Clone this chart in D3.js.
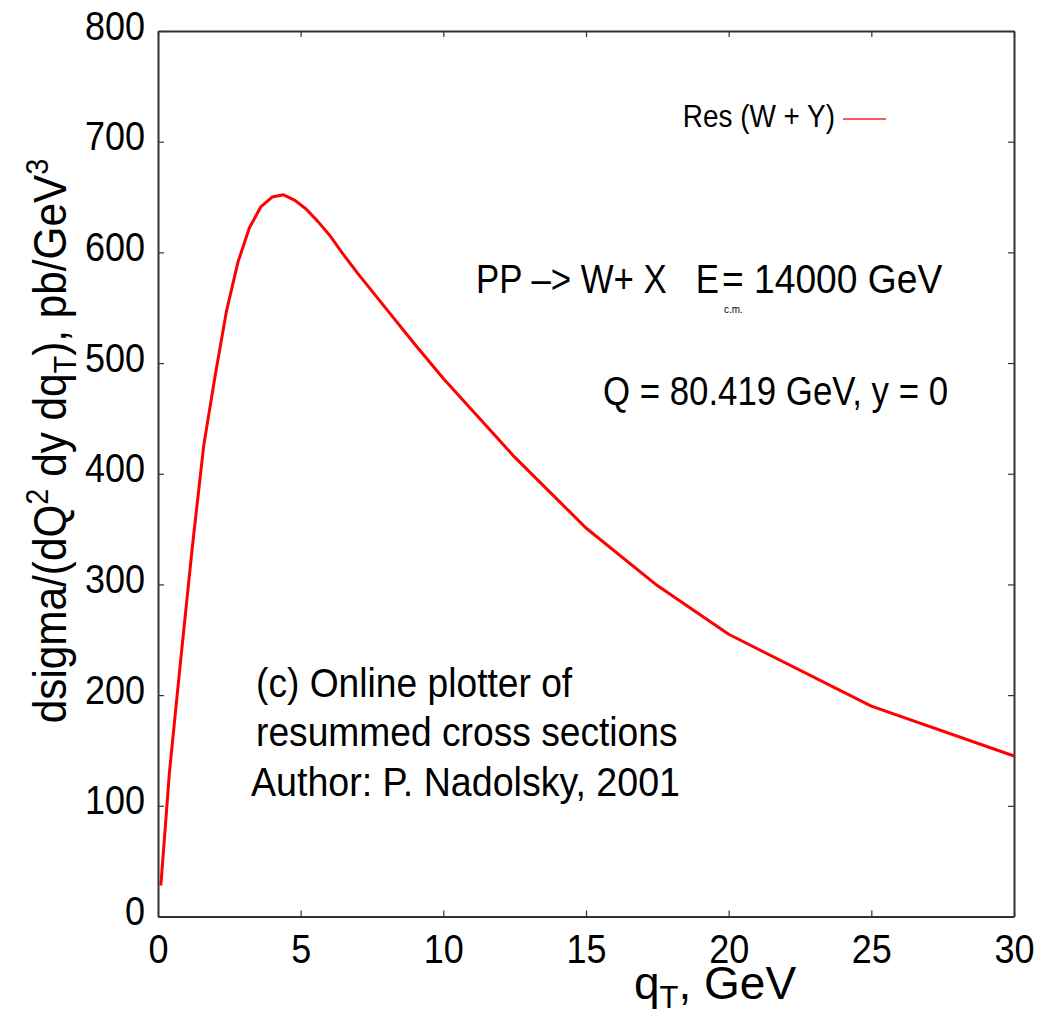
<!DOCTYPE html>
<html>
<head>
<meta charset="utf-8">
<script src="https://cdn.jsdelivr.net/npm/d3@7"></script>
<style>
  html, body { margin: 0; padding: 0; background: #fff; }
  svg { display: block; font-family: "Liberation Sans", Arial, Helvetica, sans-serif; }
  text { white-space: pre; }
</style>
</head>
<body>
<svg id="chart" width="1049" height="1018"></svg>
<script>
// Transverse momentum of the W boson, GeV
const qT = [0.1, 0.4, 0.8, 1.2, 1.6, 2.0, 2.4, 2.8, 3.2, 3.6, 4.0, 4.4, 4.8, 5.2, 5.6, 6.0,
            6.5, 7.0, 7.5, 8.0, 9.0, 10.0, 12.5, 15.0, 17.5, 20.0, 25.0, 30.0];
// Resummed cross section (W + Y), pb/GeV^3
const dsigma = [28, 130, 233, 333, 425, 488, 547, 591, 622, 641, 650, 652, 647, 639, 628, 616,
                598, 581, 565, 549, 517, 486, 415, 351, 299, 255, 190, 145];

const xTicks = [0, 5, 10, 15, 20, 25, 30];
const yTicks = [0, 100, 200, 300, 400, 500, 600, 700, 800];

const svg = d3.select("#chart");
const plotLeft = 158, plotRight = 1014, plotTop = 31, plotBottom = 916.5;
const squeeze = 0.9;   // the typeface is drawn slightly condensed

const x = d3.scaleLinear().domain([0, 30]).range([plotLeft, plotRight]);
const y = d3.scaleLinear().domain([0, 800]).range([plotBottom, plotTop]);

function label(sel, px, py, str, size, anchor, sx) {
  return sel.append("text")
    .attr("transform", `translate(${px},${py}) scale(${sx || squeeze},1)`)
    .attr("text-anchor", anchor || "start")
    .attr("font-size", size)
    .attr("fill", "#000")
    .text(str);
}

const axisColor = "#333";
function styleAxis(g) {
  g.selectAll("path.domain").attr("stroke", axisColor).attr("stroke-width", 2);
  g.selectAll(".tick line").attr("stroke", axisColor).attr("stroke-width", 1.2);
}

// bottom axis with labels
const gx = svg.append("g").attr("transform", `translate(0,${plotBottom})`)
  .call(d3.axisBottom(x).tickValues(xTicks).tickSizeInner(-6).tickSizeOuter(0));
styleAxis(gx);
gx.selectAll(".tick text")
  .attr("y", 0).attr("dy", 0)
  .attr("transform", "translate(0,46) scale(" + squeeze + ",1)")
  .attr("font-size", 40).attr("fill", "#000")
  .attr("font-family", "Liberation Sans, Arial, sans-serif");

// top mirror axis
const gt = svg.append("g").attr("transform", `translate(0,${plotTop})`)
  .call(d3.axisTop(x).tickValues(xTicks).tickSizeInner(-6).tickSizeOuter(0).tickFormat(""));
styleAxis(gt);

// left axis with labels
const gy = svg.append("g").attr("transform", `translate(${plotLeft},0)`)
  .call(d3.axisLeft(y).tickValues(yTicks).tickSizeInner(-6).tickSizeOuter(0));
styleAxis(gy);
gy.selectAll(".tick text")
  .attr("x", 0).attr("dy", 0)
  .attr("transform", "translate(-13,8) scale(" + squeeze + ",1)")
  .attr("text-anchor", "end")
  .attr("font-size", 40).attr("fill", "#000")
  .attr("font-family", "Liberation Sans, Arial, sans-serif");

// right mirror axis
const gr = svg.append("g").attr("transform", `translate(${plotRight},0)`)
  .call(d3.axisRight(y).tickValues(yTicks).tickSizeInner(-6).tickSizeOuter(0).tickFormat(""));
styleAxis(gr);

// curve
const line = d3.line().x((d, i) => x(qT[i])).y(d => y(d));
svg.append("path")
  .datum(dsigma)
  .attr("d", line)
  .attr("fill", "none")
  .attr("stroke", "#ff0000")
  .attr("stroke-width", 3)
  .attr("stroke-linejoin", "round");

// legend
label(svg, 835, 127, "Res (W + Y)", 31, "end");
svg.append("line")
  .attr("x1", 843).attr("x2", 886).attr("y1", 119).attr("y2", 119)
  .attr("stroke", "#ff2020").attr("stroke-width", 1.4);

// process annotation
label(svg, 719, 293, "PP \u2013> W+ X   E", 40, "end", 0.87);
label(svg, 724, 313, "c.m.", 11, "start");
label(svg, 722, 293, "= 14000 GeV", 40, "start", 0.93);
label(svg, 948, 405, "Q = 80.419 GeV, y = 0", 40, "end", 0.87);

// credits
label(svg, 256, 697, "(c) Online plotter of", 40, "start", 0.93);
label(svg, 256, 746, "resummed cross sections", 40, "start", 0.93);
label(svg, 251, 796, "Author: P. Nadolsky, 2001", 40, "start", 0.94);

// x-axis title
const xt = svg.append("text")
  .attr("transform", `translate(634,999) scale(1,1)`)
  .attr("font-size", 46).attr("fill", "#000");
xt.append("tspan").text("q");
xt.append("tspan").attr("font-size", 31).attr("dy", 9).text("T");
xt.append("tspan").attr("dy", -9).text(", GeV");

// y-axis title
const yt = svg.append("text")
  .attr("transform", `translate(66,441) rotate(-90) scale(${squeeze},1)`)
  .attr("text-anchor", "middle")
  .attr("font-size", 47).attr("fill", "#000");
yt.append("tspan").text("dsigma/(dQ");
yt.append("tspan").attr("font-size", 32).attr("dy", -18).text("2");
yt.append("tspan").attr("dy", 18).text(" dy dq");
yt.append("tspan").attr("font-size", 32).attr("dy", 10).text("T");
yt.append("tspan").attr("dy", -10).text("), pb/GeV");
yt.append("tspan").attr("font-size", 32).attr("dy", -18).text("3");
</script>
</body>
</html>
